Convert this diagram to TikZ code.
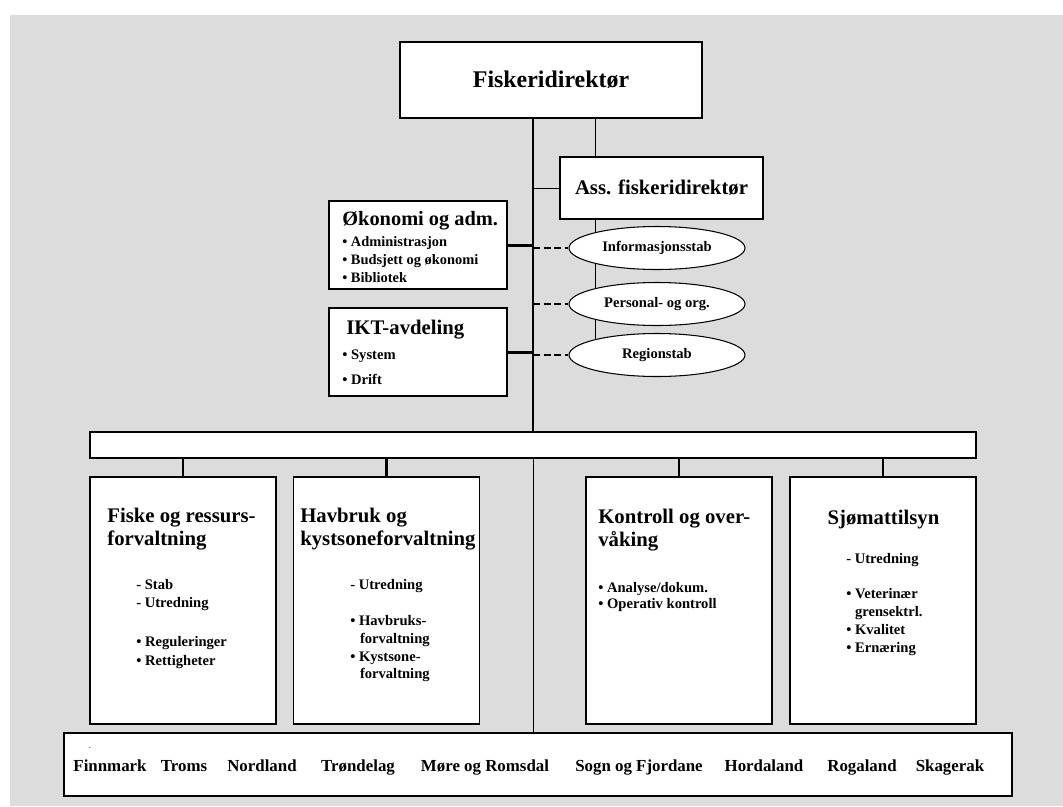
\documentclass[tikz,border=0pt]{standalone}
\usepackage{fontspec}
\setmainfont{Liberation Serif}
\usetikzlibrary{shapes.geometric}
\definecolor{panel}{RGB}{220,220,220}
\pgfdeclarelayer{backdrop}
\pgfdeclarelayer{wires}
\pgfsetlayers{backdrop,wires,main}

\begin{document}
\begin{tikzpicture}
        [x=0.02cm,y=-0.02cm,
         unit/.style={draw,line width=0.8pt,fill=white,inner sep=0},
         staff/.style={draw,ellipse,line width=0.6pt,fill=white,inner sep=0,minimum width=3.52cm,minimum height=0.86cm,font=\bfseries\fontsize{8.3}{10}\selectfont},
         head/.style={inner sep=0,anchor=north west,align=left,font=\bfseries\fontsize{11.8}{13}\selectfont},
         items/.style={inner sep=0,anchor=north west,align=left,font=\bfseries\fontsize{8.3}{10.4}\selectfont},
         region/.style={inner sep=0,anchor=base,font=\bfseries\fontsize{9.6}{12}\selectfont},
         spine/.style={line width=1.7pt},
         stem/.style={line width=1.2pt},
         link/.style={line width=0.5pt},
         staffline/.style={line width=0.9pt,dash pattern=on 4pt off 2pt}]

        \useasboundingbox (0,0) rectangle (1063,806);

        \coordinate (trunk) at (533,0);
        \coordinate (assline) at (595,0);

        \node[unit,minimum width=6.04cm,minimum height=1.52cm,font=\bfseries\fontsize{13.6}{16}\selectfont] (dir) at (551,80) {Fiskeridirektør};
        \node[unit,minimum width=4.06cm,minimum height=1.24cm,font=\bfseries\fontsize{11.8}{14}\selectfont] (ass) at (661.5,188) {Ass. fiskeridirektør};

        \node[unit,minimum width=3.56cm,minimum height=1.76cm] (oko) at (418,245) {};
        \node[head,font=\bfseries\fontsize{11.6}{13}\selectfont] (okohead) at (342,211.4) {Økonomi og adm.};
        \node[items,font=\bfseries\fontsize{8.2}{10.2}\selectfont] (okolist) at (342,236.6) {• Administrasjon\\• Budsjett og økonomi\\• Bibliotek};

        \node[unit,minimum width=3.56cm,minimum height=1.76cm] (ikt) at (418,352) {};
        \node[head] (ikthead) at (346,320) {IKT-avdeling};
        \node[items,font=\bfseries\fontsize{8.3}{14.2}\selectfont] (iktlist) at (342,349.6) {• System\\• Drift};

        \node[staff] (info) at (657,248) {Informasjonsstab};
        \node[staff] (pers) at (657,304) {Personal- og org.};
        \node[staff] (regs) at (657,355) {Regionstab};

        \node[unit,minimum width=17.72cm,minimum height=0.52cm] (bar) at (533,445) {};

        \node[unit,minimum width=3.72cm,minimum height=4.94cm] (fisk) at (183,600.5) {};
        \node[head] (fiskhead) at (107,508) {Fiske og ressurs-\\forvaltning};
        \node[items,font=\bfseries\fontsize{8.3}{10.6}\selectfont] (fisklist) at (136,578.6) {- Stab\\- Utredning\\[11.5pt]• Reguleringer\\• Rettigheter};

        \node[unit,minimum width=3.72cm,minimum height=4.94cm] (havb) at (386.5,600.5) {};
        \node[head] (havbhead) at (300,508) {Havbruk og\\kystsoneforvaltning};
        \node[items,font=\bfseries\fontsize{8.3}{10}\selectfont] (havblist) at (350,578.6) {- Utredning\\[11pt]• Havbruks-\\\hspace*{5.5pt}forvaltning\\• Kystsone-\\\hspace*{5.5pt}forvaltning};

        \node[unit,minimum width=3.72cm,minimum height=4.94cm] (kontr) at (679,600.5) {};
        \node[head] (kontrhead) at (598,509) {Kontroll og over-\\våking};
        \node[items,font=\bfseries\fontsize{8.3}{9.6}\selectfont] (kontrlist) at (598,581.6) {• Analyse/dokum.\\• Operativ kontroll};

        \node[unit,minimum width=3.72cm,minimum height=4.94cm] (sjo) at (883,600.5) {};
        \node[head,anchor=base] (sjohead) at (883.5,524) {Sjømattilsyn};
        \node[items,font=\bfseries\fontsize{8.3}{10.2}\selectfont] (sjolist) at (846,552.6) {- Utredning\\[10pt]• Veterinær\\\hspace*{5pt}grensektrl.\\• Kvalitet\\• Ernæring};

        \node[unit,minimum width=18.96cm,minimum height=1.26cm] (regions) at (538,764.5) {};
        \node[inner sep=0,font=\fontsize{5}{6}\selectfont] (dot) at (90,748) {.};
        \node[region] (finnmark) at (110,771) {Finnmark};
        \node[region] (troms) at (184,771) {Troms};
        \node[region] (nordland) at (262,771) {Nordland};
        \node[region] (trondelag) at (358,771) {Trøndelag};
        \node[region] (more) at (485,771) {Møre og Romsdal};
        \node[region] (sogn) at (639,771) {Sogn og Fjordane};
        \node[region] (horda) at (764,771) {Hordaland};
        \node[region] (roga) at (862,771) {Rogaland};
        \node[region] (skag) at (950,771) {Skagerak};

        \begin{pgfonlayer}{backdrop}
          \fill[panel] (10,15) rectangle (1063,806);
        \end{pgfonlayer}

        \begin{pgfonlayer}{wires}
          \draw[spine] (dir.south -| trunk) -- (bar.north -| trunk);
          \draw[link] (dir.south -| assline) -- (ass.north -| assline);
          \draw[link] (ass.south -| assline) -- (regs.center -| assline);
          \draw[link] (trunk |- ass.west) -- (ass.west);
          \draw[spine] (oko.east) -- (trunk |- oko.east);
          \draw[spine] (ikt.east) -- (trunk |- ikt.east);
          \draw[staffline] (trunk |- info.west) -- (info.west);
          \draw[staffline] (trunk |- pers.west) -- (pers.west);
          \draw[staffline] (trunk |- regs.west) -- (regs.west);
          \draw[link] (bar.south) -- (regions.north -| bar.south);
          \draw[stem] (bar.south -| fisk.north) -- (fisk.north);
          \draw[stem] (bar.south -| havb.north) -- (havb.north);
          \draw[stem] (bar.south -| kontr.north) -- (kontr.north);
          \draw[stem] (bar.south -| sjo.north) -- (sjo.north);
        \end{pgfonlayer}
      \end{tikzpicture}
\end{document}
